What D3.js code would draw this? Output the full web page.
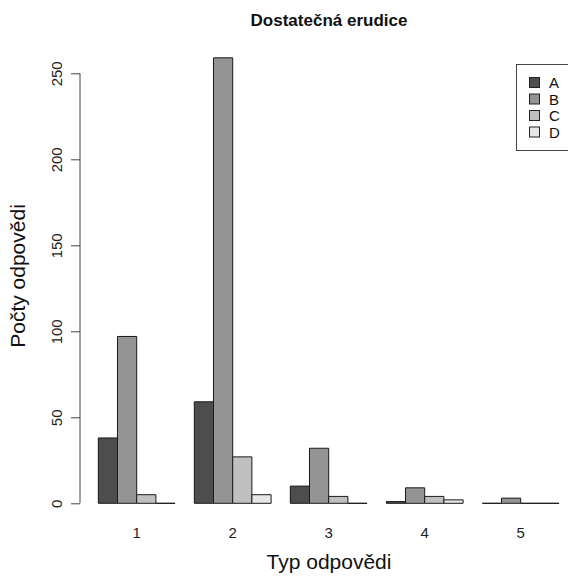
<!DOCTYPE html>
<html>
<head>
<meta charset="utf-8">
<script src="https://cdn.jsdelivr.net/npm/d3@7"></script>
<style>
html,body{margin:0;padding:0;background:#fff;}
svg{display:block;font-family:"Liberation Sans",Arial,sans-serif;}
</style>
</head>
<body>
<svg id="chart" width="568" height="579"></svg>
<script>
const categories = ["1","2","3","4","5"];
const seriesNames = ["A","B","C","D"];
const seriesA = [38, 59, 10, 1, 0];
const seriesB = [97, 259, 32, 9, 3];
const seriesC = [5, 27, 4, 4, 0];
const seriesD = [0, 5, 0, 2, 0];
const seriesColors = ["#4D4D4D","#949494","#C0C0C0","#E6E6E6"];
const yTicks = [0, 50, 100, 150, 200, 250];
const titleText = "Dostatečná erudice";
const xTitle = "Typ odpovědi";
const yTitle = "Počty odpovědi";

const allSeries = [seriesA, seriesB, seriesC, seriesD];
const svg = d3.select("#chart");

// bar units: group i, series j -> left = 1 + 5*i + j
const x = d3.scaleLinear().domain([0, 25]).range([79.1, 559.1]);
const y = d3.scaleLinear().domain([0, 250]).range([503.3, 73.3]);

const bars = [];
categories.forEach((c, i) => {
  seriesNames.forEach((s, j) => {
    bars.push({cat: c, ser: s, j, u: 1 + 5 * i + j, v: allSeries[j][i]});
  });
});

svg.append("g").selectAll("path").data(bars).enter().append("path")
  .attr("d", d => {
    const x0 = x(d.u), x1 = x(d.u + 1), y0 = y(0), y1 = y(d.v);
    return `M${x0},${y0}V${y1}H${x1}V${y0}Z`;
  })
  .attr("fill", d => seriesColors[d.j])
  .attr("stroke", "#1a1a1a")
  .attr("stroke-width", 1);

// y axis
const yAxis = d3.axisLeft(y).tickValues(yTicks).tickSize(9).tickPadding(0).tickFormat(d3.format("d"));
const ga = svg.append("g").attr("transform", "translate(80,0)").call(yAxis);
ga.select(".domain").attr("stroke", "#444").attr("d", `M0,${y(0)}V${y(250)}`);
ga.selectAll(".tick line").attr("stroke", "#444");
ga.selectAll(".tick text").remove();
ga.selectAll(".tick").append("text")
  .attr("transform", "translate(-18,0) rotate(-90)")
  .attr("text-anchor", "middle")
  .attr("fill", "#222")
  .attr("font-size", "15px")
  .attr("font-family", "Liberation Sans, Arial, sans-serif")
  .text(d => d);

// x category labels
svg.append("g").selectAll("text").data(categories).enter().append("text")
  .attr("x", (d, i) => x(1 + 5 * i + 2))
  .attr("y", 538)
  .attr("text-anchor", "middle")
  .attr("font-size", "15px")
  .attr("fill", "#222")
  .text(d => d);

// titles
svg.append("text").attr("x", 329).attr("y", 26).attr("text-anchor", "middle")
  .attr("font-size", "17px").attr("font-weight", "bold").attr("fill", "#111").text(titleText);
svg.append("text").attr("x", 329).attr("y", 569).attr("text-anchor", "middle")
  .attr("font-size", "21px").attr("fill", "#111").text(xTitle);
svg.append("text").attr("transform", "translate(25,276) rotate(-90)").attr("text-anchor", "middle")
  .attr("font-size", "21px").attr("fill", "#111").text(yTitle);

// legend
const lg = svg.append("g");
lg.append("rect").attr("x", 516.5).attr("y", 64.5).attr("width", 70).attr("height", 86)
  .attr("fill", "none").attr("stroke", "#444").attr("stroke-width", 1);
const rowY = d3.scalePoint().domain(seriesNames).range([82.5, 132]);
const items = lg.selectAll("g.item").data(seriesNames).enter().append("g").attr("class", "item");
items.append("rect").attr("x", 529.5).attr("y", d => rowY(d) - 5).attr("width", 10).attr("height", 10)
  .attr("fill", (d, i) => seriesColors[i]).attr("stroke", "#222").attr("stroke-width", 1);
items.append("text").attr("x", 549).attr("y", d => rowY(d) + 5.5)
  .attr("font-size", "15px").attr("fill", "#111").text(d => d);
</script>
</body>
</html>
